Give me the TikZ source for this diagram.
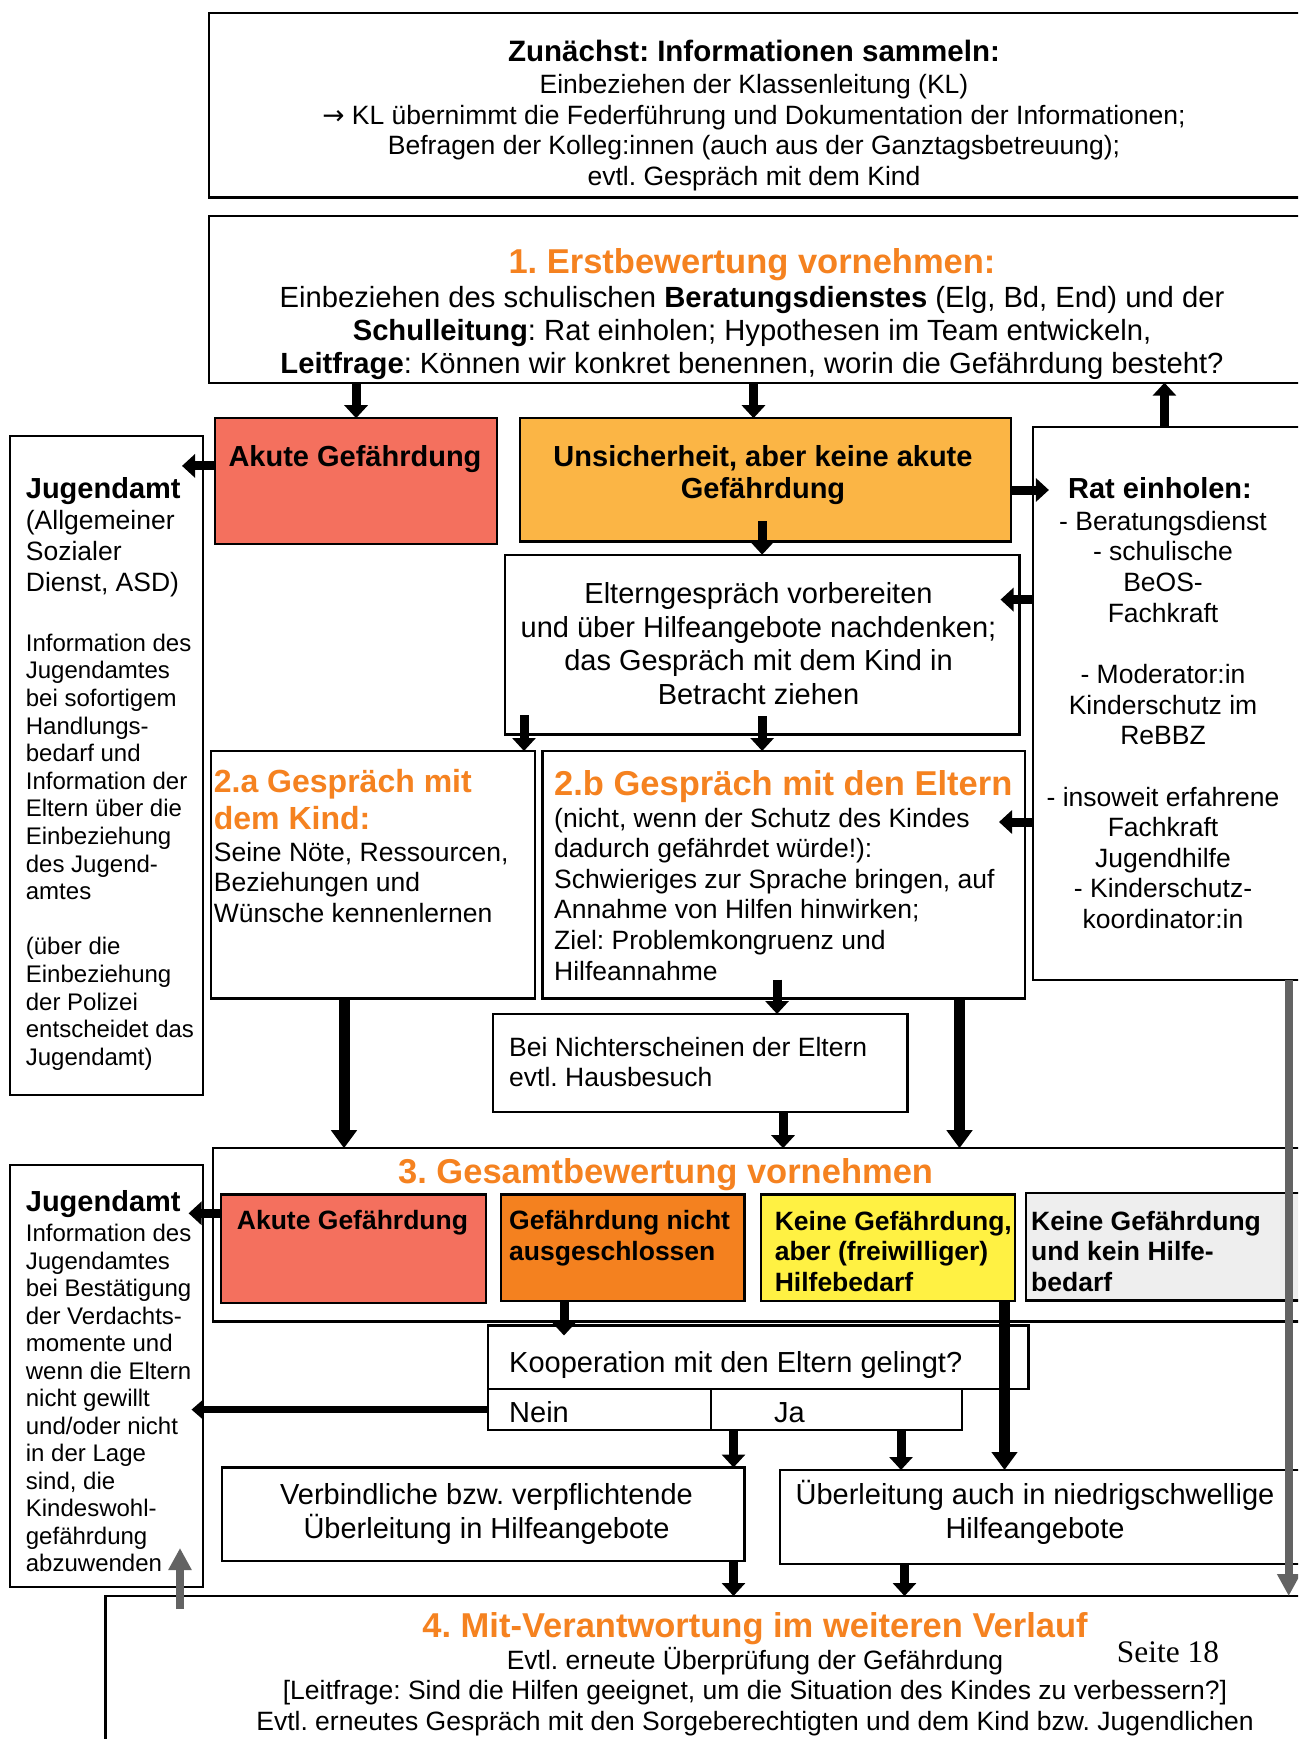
\documentclass[tikz,border=0pt]{standalone}
\usepackage{fontspec}
\setmainfont{Liberation Sans}
\newfontfamily\seitefont{Liberation Serif}
\newfontfamily\arrowfont{DejaVu Sans}
\frenchspacing
\usetikzlibrary{arrows.meta}
\definecolor{salmon}{HTML}{F4705E}
\definecolor{lorange}{HTML}{FBB545}
\definecolor{dorange}{HTML}{F4811F}
\definecolor{yel}{HTML}{FFF143}
\definecolor{lgray}{HTML}{EEEEEE}
\definecolor{ttl}{HTML}{F58220}
\definecolor{garrow}{HTML}{636363}
\tikzset{
  box/.style={draw=black, line width=2.2pt, anchor=north west, inner sep=0pt, outer sep=0pt},
  arr/.style={line width=9pt, -{Triangle[width=23pt,length=13pt]}},
  arrL/.style={line width=11pt, -{Triangle[width=25pt,length=18pt]}},
  arrS/.style={line width=7pt, -{Triangle[width=20pt,length=12pt]}},
  garr/.style={draw=garrow, line width=8pt, -{Triangle[width=22pt,length=22pt]}},
  t265/.style={inner sep=0pt, font=\fontsize{26.5}{31}\selectfont},
  t24/.style={inner sep=0pt, font=\fontsize{24}{28}\selectfont},
  t29/.style={inner sep=0pt, font=\fontsize{29}{34}\selectfont},
  t292/.style={inner sep=0pt, font=\fontsize{29.2}{34}\selectfont},
  b265/.style={inner sep=0pt, font=\fontsize{26.5}{31}\selectfont\bfseries},
  b295/.style={inner sep=0pt, font=\fontsize{29.5}{34}\selectfont\bfseries},
  b29/.style={inner sep=0pt, font=\fontsize{29}{34}\selectfont\bfseries},
  ttlA/.style={inner sep=0pt, text=ttl, font=\fontsize{34.5}{40}\selectfont\bfseries},
  ttlB/.style={inner sep=0pt, text=ttl, font=\fontsize{32}{37}\selectfont\bfseries}
}
\begin{document}
\begin{tikzpicture}[x=1pt,y=-1pt]
\path[use as bounding box] (0,0) rectangle (1298,1739);
\clip (0,0) rectangle (1298,1739);
\fill[white] (0,0) rectangle (1298,1739);

% ---------- boxes ----------
\node[box, minimum width=1101.4pt, minimum height=184.2pt] (top) at (208.6,13.3) {};
\node[box, minimum width=1101.4pt, minimum height=166.4pt] (box1) at (208.6,216.3) {};
\node[box, fill=salmon, minimum width=281.8pt, minimum height=125.4pt] (akute1) at (215.2,418.2) {};
\node[box, fill=lorange, minimum width=490.4pt, minimum height=123.2pt] (unsich) at (520.3,418.2) {};
\node[box, minimum width=193pt, minimum height=659pt] (jug1) at (10,436) {};
\node[box, minimum width=277.1pt, minimum height=552.5pt] (rat) at (1032.9,427.1) {};
\node[box, minimum width=514.7pt, minimum height=179.7pt] (prep) at (504.8,554.7) {};
\node[box, minimum width=323.9pt, minimum height=247.5pt] (b2a) at (210.8,751) {};
\node[box, minimum width=482.5pt, minimum height=247.5pt] (b2b) at (542.5,751) {};
\node[box, minimum width=414.9pt, minimum height=97.6pt] (nicht) at (492.6,1014) {};
\node[box, minimum width=1097pt, minimum height=173.3pt] (gesamt) at (213,1148.2) {};
\node[box, fill=salmon, minimum width=265.5pt, minimum height=108.5pt] (akute2) at (220.8,1194.5) {};
\node[box, fill=dorange, minimum width=243.4pt, minimum height=106.5pt] (gna) at (501,1194.5) {};
\node[box, fill=yel, minimum width=254pt, minimum height=106.5pt] (kgah) at (761,1194.5) {};
\node[box, fill=lgray, minimum width=283.8pt, minimum height=107.5pt] (kgkh) at (1026.2,1193) {};
\node[box, minimum width=193pt, minimum height=422pt] (jug2) at (10,1165) {};
\node[box, minimum width=540.4pt, minimum height=63.7pt] (koop) at (488,1325.5) {};
\node[box, minimum width=223.1pt, minimum height=40.8pt] (nein) at (488,1389.2) {};
\node[box, minimum width=250.8pt, minimum height=40.8pt] (ja) at (711.1,1389.2) {};
\node[box, minimum width=522.4pt, minimum height=93.5pt] (verb) at (222,1467.5) {};
\node[box, minimum width=530.1pt, minimum height=94pt] (ueber) at (779.9,1470) {};
\node[box, minimum width=1204.6pt, minimum height=164pt] (box4) at (105.4,1596) {};

% ---------- helper coordinates ----------
\coordinate (c2) at ([xshift=-12pt]unsich.north);
\coordinate (c3) at ([xshift=-7pt]rat.north);
\coordinate (c4) at ([yshift=15pt]akute1.west);
\coordinate (c5) at ([yshift=-10.2pt]unsich.east);
\coordinate (c7) at ([yshift=44.95pt]prep.east);
\coordinate (c8) at ([yshift=52.75pt]b2b.east);
\coordinate (c9) at ([xshift=-10.7pt]b2a.north east);
\coordinate (c11) at ([xshift=77pt]nicht.north);
\coordinate (c12) at ([xshift=-28.75pt]b2a.south);
\coordinate (c13) at ([xshift=175.75pt]b2b.south);
\coordinate (c14) at ([xshift=83pt]nicht.south);
\coordinate (c15) at ([xshift=117.25pt]rat.south);
\coordinate (c16) at ([yshift=35.45pt]akute2.west);
\coordinate (c17) at ([xshift=-58.7pt]gna.south);
\coordinate (c18) at ([xshift=116.5pt]kgah.south);
\coordinate (c20) at ([xshift=-10.9pt]verb.north east);
\coordinate (c21) at ([xshift=64.5pt]ja.south);
\coordinate (c23) at ([xshift=124.6pt]ueber.south west);
\coordinate (c24) at ([xshift=-23pt]jug2.south east);

% ---------- connectors ----------
\draw[arr] (akute1.north |- box1.south) -- (akute1.north);
\draw[arr] (c2 |- box1.south) -- (c2);
\draw[arr] (c3) -- (c3 |- box1.south);
\draw[arr, shorten >=-21pt] (c4) -- (c4 -| jug1.east);
\draw[arr, shorten >=-16pt] (c5) -- (c5 -| rat.west);
\draw[arr, shorten <=-20pt] (prep.north |- unsich.south) -- (prep.north);
\draw[arr, shorten >=-19pt] (c7 -| rat.west) -- (c7);
\draw[arr, shorten >=-26pt] (c8 -| rat.west) -- (c8);
\draw[arr, shorten <=-19pt] (c9 |- prep.south) -- (c9);
\draw[arr, shorten <=-18pt] (prep.south) -- (prep.south |- b2b.north);
\draw[arr, shorten <=-19pt] (c11 |- b2b.south) -- (c11);
\draw[arrL] (c12) -- (c12 |- gesamt.north);
\draw[arrL] (c13) -- (c13 |- gesamt.north);
\draw[arr] (c14) -- (c14 |- gesamt.north);
\draw[garr] (c15) -- (c15 |- box4.north);
\draw[arr, shorten >=-14.4pt] (c16) -- (c16 -| jug2.east);
\draw[arr, shorten >=-10pt] (c17) -- (c17 |- koop.north);
\draw[arrL] (c18) -- (c18 |- ueber.north);
\draw[arrS, shorten >=-11.5pt] (nein.west) -- (nein.west -| jug2.east);
\draw[arr] (c20 |- nein.south) -- (c20);
\draw[arr] (c21) -- (c21 |- ueber.north);
\draw[arr] (c20 |- verb.south) -- (c20 |- box4.north);
\draw[arr] (c23) -- (c23 |- box4.north);
\draw[garr, shorten <=-13pt, shorten >=-39pt] (c24 |- box4.north) -- (c24 |- jug2.south);

% ---------- texts ----------
% Zunaechst
\node[b295, anchor=base] (topt) at (754,62) {Zunächst: Informationen sammeln:};
\foreach \tline [count=\i from 0] in {{Einbeziehen der Klassenleitung (KL)},{{\arrowfont →} KL übernimmt die Federführung und Dokumentation der Informationen;},{Befragen der Kolleg:innen (auch aus der Ganztagsbetreuung);},{evtl. Gespräch mit dem Kind}}
  \node[t265, anchor=base] (topl\i) at (754,{93.8+30.6*\i}) {\tline};

% Box 1
\node[ttlA, anchor=base] (box1t) at (752,273.4) {1. Erstbewertung vornehmen:};
\foreach \tline [count=\i from 0] in {{Einbeziehen des schulischen \textbf{Beratungsdienstes} (Elg, Bd, End) und der},{\textbf{Schulleitung}: Rat einholen; Hypothesen im Team entwickeln,},{\textbf{Leitfrage}: Können wir konkret benennen, worin die Gefährdung besteht?}}
  \node[t292, anchor=base] (box1l\i) at (752,{307+33.2*\i}) {\tline};

% Akute / Unsicherheit
\node[b29, anchor=base] (akute1t) at (355,466.3) {Akute Gefährdung};
\node[b29, anchor=base] (unsicht0) at (763,466.3) {Unsicherheit, aber keine akute};
\node[b29, anchor=base] (unsicht1) at (763,498.6) {Gefährdung};

% Jugendamt 1
\node[b29, anchor=base west] (j1t) at (25.7,498.6) {Jugendamt};
\foreach \tline [count=\i from 0] in {{(Allgemeiner},{Sozialer},{Dienst, ASD)}}
  \node[t265, anchor=base west] (j1a\i) at (25.7,{529.7+31*\i}) {\tline};
\foreach \tline [count=\i from 0] in {{Information des},{Jugendamtes},{bei sofortigem},{Handlungs-},{bedarf und},{Information der},{Eltern über die},{Einbeziehung},{des Jugend-},{amtes}}
  \node[t24, anchor=base west] (j1b\i) at (25.7,{651.2+27.6*\i}) {\tline};
\foreach \tline [count=\i from 0] in {{(über die},{Einbeziehung},{der Polizei},{entscheidet das},{Jugendamt)}}
  \node[t24, anchor=base west] (j1c\i) at (25.7,{954.8+27.6*\i}) {\tline};

% Rat einholen
\node[b29, anchor=base] (ratt) at (1160,498.9) {Rat einholen:};
\foreach \tline [count=\i from 0] in {{- Beratungsdienst},{- schulische},{BeOS-},{Fachkraft}}
  \node[t265, anchor=base] (rata\i) at (1163,{530.1+30.65*\i}) {\tline};
\foreach \tline [count=\i from 0] in {{- Moderator:in},{Kinderschutz im},{ReBBZ}}
  \node[t265, anchor=base] (ratb\i) at (1163,{683.4+30.65*\i}) {\tline};
\foreach \tline [count=\i from 0] in {{- insoweit erfahrene},{Fachkraft},{Jugendhilfe},{- Kinderschutz-},{koordinator:in}}
  \node[t265, anchor=base] (ratc\i) at (1163,{806+30.65*\i}) {\tline};

% Elterngespraech vorbereiten
\foreach \tline [count=\i from 0] in {{Elterngespräch vorbereiten},{und über Hilfeangebote nachdenken;},{das Gespräch mit dem Kind in},{Betracht ziehen}}
  \node[t29, anchor=base] (prepl\i) at (758.5,{603.6+33.6*\i}) {\tline};

% 2.a
\node[ttlB, anchor=base west] (b2at0) at (213.7,792.3) {2.a Gespräch mit};
\node[ttlB, anchor=base west] (b2at1) at (213.7,829.3) {dem Kind:};
\foreach \tline [count=\i from 0] in {{Seine Nöte, Ressourcen,},{Beziehungen und},{Wünsche kennenlernen}}
  \node[t265, anchor=base west] (b2al\i) at (213.7,{861+30.6*\i}) {\tline};

% 2.b
\node[ttlA, anchor=base west] (b2bt) at (554,795.4) {2.b Gespräch mit den Eltern};
\foreach \tline [count=\i from 0] in {{(nicht, wenn der Schutz des Kindes},{dadurch gefährdet würde!):},{Schwieriges zur Sprache bringen, auf},{Annahme von Hilfen hinwirken;},{Ziel: Problemkongruenz und},{Hilfeannahme}}
  \node[t265, anchor=base west] (b2bl\i) at (554,{827+30.6*\i}) {\tline};

% Nichterscheinen
\node[t265, anchor=base west] (nicht0) at (509,1056) {Bei Nichterscheinen der Eltern};
\node[t265, anchor=base west] (nicht1) at (509,1086) {evtl. Hausbesuch};

% 3. Gesamtbewertung
\node[ttlA, anchor=base] (gesamtt) at (665.6,1183) {3. Gesamtbewertung vornehmen};
\node[b265, anchor=base] (akute2t) at (352.5,1229.7) {Akute Gefährdung};
\node[b265, anchor=base west] (gnat0) at (509,1229.7) {Gefährdung nicht};
\node[b265, anchor=base west] (gnat1) at (509,1260.5) {ausgeschlossen};
\foreach \tline [count=\i from 0] in {{Keine Gefährdung,},{aber (freiwilliger)},{Hilfebedarf}}
  \node[b265, anchor=base west] (kgaht\i) at (774.6,{1230+30.8*\i}) {\tline};
\foreach \tline [count=\i from 0] in {{Keine Gefährdung},{und kein Hilfe-},{bedarf}}
  \node[b265, anchor=base west] (kgkht\i) at (1031,{1230+30.8*\i}) {\tline};

% Jugendamt 2
\node[b29, anchor=base west] (j2t) at (25.7,1211.5) {Jugendamt};
\foreach \tline [count=\i from 0] in {{Information des},{Jugendamtes},{bei Bestätigung},{der Verdachts-},{momente und},{wenn die Eltern},{nicht gewillt},{und/oder nicht},{in der Lage},{sind, die},{Kindeswohl-},{gefährdung},{abzuwenden}}
  \node[t24, anchor=base west] (j2l\i) at (25.7,{1241.6+27.5*\i}) {\tline};

% Kooperation
\node[t29, anchor=base west] (koopt) at (509,1372.4) {Kooperation mit den Eltern gelingt?};
\node[t29, anchor=base west] (neint) at (509,1422) {Nein};
\node[t29, anchor=base west] (jat) at (774,1422) {Ja};

% Ueberleitungen
\node[t29, anchor=base] (verbt0) at (486.5,1504.1) {Verbindliche bzw. verpflichtende};
\node[t29, anchor=base] (verbt1) at (486.5,1538.7) {Überleitung in Hilfeangebote};
\node[t29, anchor=base] (uebert0) at (1035,1504.5) {Überleitung auch in niedrigschwellige};
\node[t29, anchor=base] (uebert1) at (1035,1538.7) {Hilfeangebote};

% 4.
\node[ttlA, anchor=base] (box4t) at (755,1637) {4. Mit-Verantwortung im weiteren Verlauf};
\foreach \tline [count=\i from 0] in {{Evtl. erneute Überprüfung der Gefährdung},{[Leitfrage: Sind die Hilfen geeignet, um die Situation des Kindes zu verbessern?]},{Evtl. erneutes Gespräch mit den Sorgeberechtigten und dem Kind bzw. Jugendlichen}}
  \node[t265, anchor=base] (box4l\i) at (755,{1669+30.6*\i}) {\tline};
\node[inner sep=0pt, anchor=base, font=\seitefont\fontsize{31.4}{36}\selectfont] (seite) at (1168,1662) {Seite 18};
\end{tikzpicture}
\end{document}
